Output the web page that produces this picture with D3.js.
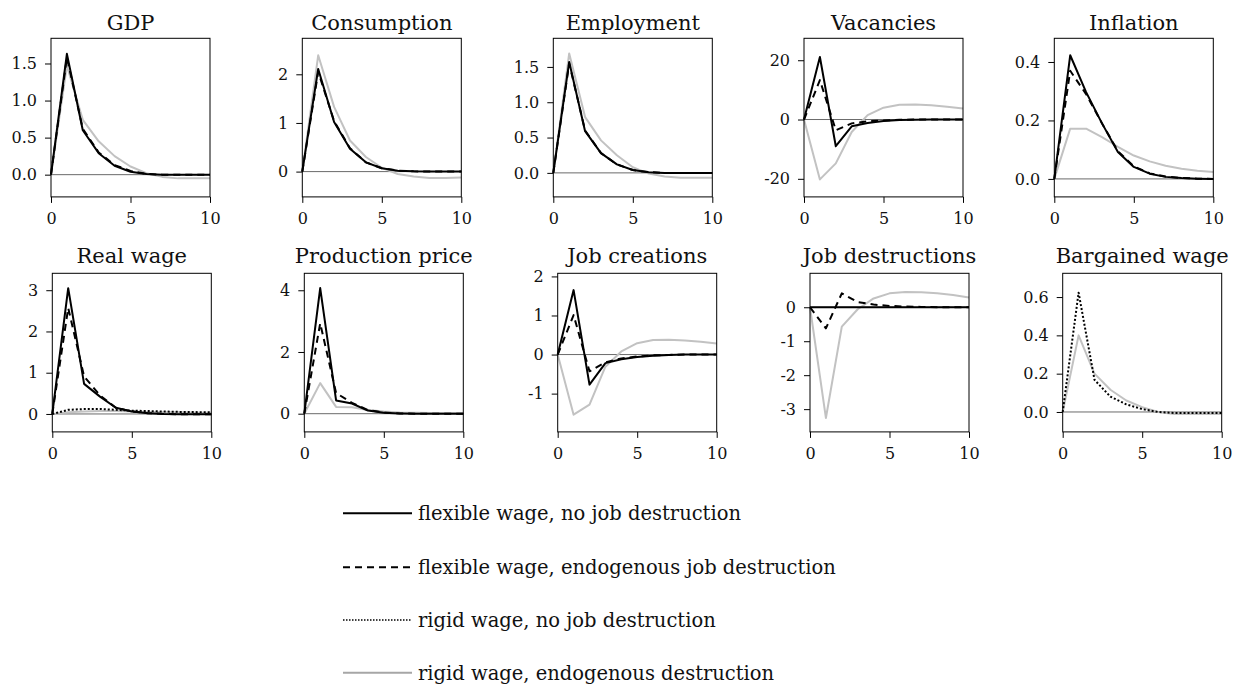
<!DOCTYPE html>
<html>
<head>
<meta charset="utf-8">
<script src="https://cdn.jsdelivr.net/npm/d3@7"></script>
<style>
  html, body { margin: 0; padding: 0; background: #fff; }
  svg { display: block; }
  text { font-family: "DejaVu Serif", serif; fill: #111; }
</style>
</head>
<body>
<svg id="chart" width="1244" height="686"></svg>
<script>
// ---------------- DATA ----------------
const periods = [0, 1, 2, 3, 4, 5, 6, 7, 8, 9, 10];

const titles = ["GDP", "Consumption", "Employment", "Vacancies", "Inflation",
                "Real wage", "Production price", "Job creations", "Job destructions", "Bargained wage"];

// One row per panel (same order as titles); null = series not drawn in that panel
const flexNoJD = [
  [0, 1.63, 0.60, 0.29, 0.12, 0.04, 0.01, 0, 0, 0, 0],
  [0, 2.11, 1.02, 0.47, 0.19, 0.07, 0.02, 0.005, 0, 0, 0],
  [0, 1.57, 0.59, 0.28, 0.12, 0.04, 0.01, 0, 0, 0, 0],
  [0, 21.1, -9.0, -2.3, -1.2, -0.5, -0.2, -0.1, 0, 0, 0],
  [0, 0.423, 0.297, 0.19, 0.092, 0.041, 0.018, 0.007, 0.003, 0.001, 0],
  [0, 3.05, 0.73, 0.42, 0.15, 0.06, 0.02, 0, -0.01, -0.01, -0.01],
  [0, 4.07, 0.43, 0.33, 0.10, 0.03, 0.01, 0, 0, 0, 0],
  [0, 1.65, -0.77, -0.22, -0.12, -0.06, -0.03, -0.01, 0, 0, 0],
  [0, 0, 0, 0, 0, 0, 0, 0, 0, 0, 0],
  null
];

const flexEndoJD = [
  [0, 1.58, 0.62, 0.30, 0.13, 0.05, 0.01, 0, 0, 0, 0],
  [0, 2.05, 1.04, 0.48, 0.19, 0.07, 0.02, 0.005, 0, 0, 0],
  [0, 1.55, 0.60, 0.28, 0.12, 0.04, 0.01, 0, 0, 0, 0],
  [0, 13.3, -3.6, -1.3, -0.6, -0.3, -0.1, 0, 0, 0, 0],
  [0, 0.37, 0.29, 0.19, 0.095, 0.043, 0.019, 0.008, 0.003, 0.001, 0],
  [0, 2.57, 0.91, 0.45, 0.15, 0.06, 0.02, 0, -0.01, -0.01, -0.01],
  [0, 2.93, 0.67, 0.35, 0.12, 0.04, 0.01, 0, 0, 0, 0],
  [0, 1.01, -0.43, -0.20, -0.10, -0.05, -0.02, -0.01, 0, 0, 0],
  [0, -0.62, 0.41, 0.15, 0.08, 0.04, 0.02, 0.01, 0, 0, 0],
  null
];

const rigidNoJD = [
  null, null, null, null, null,
  [0, 0.10, 0.12, 0.12, 0.10, 0.08, 0.07, 0.06, 0.05, 0.045, 0.04],
  null, null, null,
  [0, 0.623, 0.168, 0.08, 0.04, 0.015, 0.0, -0.005, -0.005, -0.005, -0.005]
];

const rigidEndoJD = [
  [0, 1.47, 0.74, 0.45, 0.25, 0.11, 0.02, -0.03, -0.05, -0.05, -0.05],
  [0, 2.39, 1.33, 0.64, 0.30, 0.08, -0.05, -0.10, -0.13, -0.13, -0.12],
  [0, 1.69, 0.79, 0.46, 0.25, 0.08, -0.01, -0.05, -0.07, -0.07, -0.07],
  [0, -20.2, -14.8, -4.2, 1.5, 4.0, 5.0, 5.1, 4.8, 4.3, 3.7],
  [0, 0.172, 0.172, 0.143, 0.11, 0.08, 0.06, 0.045, 0.035, 0.028, 0.024],
  [0, 0.04, 0.06, 0.07, 0.07, 0.06, 0.05, 0.04, 0.04, 0.03, 0.03],
  [0, 0.99, 0.22, 0.21, 0.12, 0.07, 0.04, 0.03, 0.02, 0.02, 0.02],
  [0, -1.54, -1.28, -0.31, 0.08, 0.29, 0.37, 0.38, 0.36, 0.33, 0.28],
  [0, -3.26, -0.57, -0.06, 0.26, 0.41, 0.45, 0.44, 0.41, 0.36, 0.29],
  [0, 0.40, 0.20, 0.116, 0.06, 0.025, 0.0, -0.01, -0.01, -0.01, -0.01]
];

const yTicks = [
  [0, 0.5, 1.0, 1.5], [0, 1, 2], [0, 0.5, 1.0, 1.5], [-20, 0, 20], [0, 0.2, 0.4],
  [0, 1, 2, 3], [0, 2, 4], [-1, 0, 1, 2], [-3, -2, -1, 0], [0, 0.2, 0.4, 0.6]
];
const yTickDecimals = [1, 0, 1, 0, 1, 0, 0, 0, 0, 1];
const xTicks = [0, 5, 10];

const seriesNames = ["flexible wage, no job destruction",
                     "flexible wage, endogenous job destruction",
                     "rigid wage, no job destruction",
                     "rigid wage, endogenous destruction"];

// ---------------- LAYOUT / STYLE ----------------
const yDomains = [
  [-0.30, 1.84], [-0.52, 2.74], [-0.34, 1.905], [-26.1, 27.4], [-0.0615, 0.481],
  [-0.435, 3.41], [-0.59, 4.55], [-1.98, 2.08], [-3.67, 1.0], [-0.104, 0.724]
];
const panelLeft = [51, 302.3, 553.3, 804, 1054.3, 52.3, 304.3, 557.7, 810, 1062.7];
const panelW = 159;
const rowTop = [38.3, 273.3];
const panelH = 158.6;

const styles = [
  { color: "#000", width: 2, dash: null },
  { color: "#000", width: 2, dash: "7,5" },
  { color: "#000", width: 2, dash: "2,2" },
  { color: "#c2c2c2", width: 2, dash: null }
];
const legendGray = "#a6a6a6";

const svg = d3.select("#chart");
const allSeries = [flexNoJD, flexEndoJD, rigidNoJD, rigidEndoJD];
const drawOrder = [3, 2, 1, 0];

titles.forEach((title, i) => {
  const row = i < 5 ? 0 : 1;
  const left = panelLeft[i];
  const top = rowTop[row];
  const x = d3.scaleLinear().domain([0, 10]).range([left, left + panelW]);
  const y = d3.scaleLinear().domain(yDomains[i]).range([top + panelH, top]);
  const g = svg.append("g");

  // zero line
  g.append("line")
    .attr("x1", x(0)).attr("x2", x(10))
    .attr("y1", y(0)).attr("y2", y(0))
    .attr("stroke", "#6a6a6a").attr("stroke-width", 1);

  const line = d3.line()
    .defined(d => d != null)
    .x((d, k) => x(periods[k]))
    .y(d => y(d));

  drawOrder.forEach(s => {
    const vals = allSeries[s][i];
    if (!vals) return;
    const st = styles[s];
    g.append("path")
      .attr("d", line(vals))
      .attr("fill", "none")
      .attr("stroke", st.color)
      .attr("stroke-width", st.width)
      .attr("stroke-linejoin", "round")
      .attr("stroke-dasharray", st.dash);
  });

  // frame
  g.append("rect")
    .attr("x", x(0)).attr("y", top)
    .attr("width", panelW).attr("height", panelH)
    .attr("fill", "none").attr("stroke", "#000").attr("stroke-width", 1);

  // y axis
  const fmt = d3.format("." + yTickDecimals[i] + "f");
  const yAxis = d3.axisLeft(y).tickValues(yTicks[i]).tickSize(6).tickPadding(8)
    .tickFormat(d => fmt(d).replace("−", "-"));
  const ya = g.append("g").attr("transform", `translate(${x(0)},0)`).call(yAxis);
  ya.select(".domain").remove();
  ya.selectAll("line").attr("stroke", "#000");
  ya.selectAll("text").attr("font-family", "DejaVu Serif").attr("font-size", 16).attr("fill", "#111");

  // x axis
  const xAxis = d3.axisBottom(x).tickValues(xTicks).tickSize(6).tickPadding(10)
    .tickFormat(d3.format("d"));
  const xa = g.append("g").attr("transform", `translate(0,${top + panelH})`).call(xAxis);
  xa.select(".domain").remove();
  xa.selectAll("line").attr("stroke", "#000");
  xa.selectAll("text").attr("font-family", "DejaVu Serif").attr("font-size", 16).attr("fill", "#111");

  // title
  g.append("text")
    .attr("x", left + panelW / 2)
    .attr("y", row === 0 ? 30 : 263)
    .attr("text-anchor", "middle")
    .attr("font-size", 21)
    .text(title);
});

// legend
const legendY = [513.3, 567.3, 620, 672.7];
seriesNames.forEach((name, s) => {
  const st = styles[s];
  svg.append("line")
    .attr("x1", 343).attr("x2", 412)
    .attr("y1", legendY[s]).attr("y2", legendY[s])
    .attr("stroke", s === 3 ? legendGray : st.color)
    .attr("stroke-width", s === 2 ? 1.5 : 2)
    .attr("stroke-dasharray", s === 2 ? "1.5,1.5" : st.dash);
  svg.append("text")
    .attr("x", 418).attr("y", legendY[s] + 7)
    .attr("font-size", 19.5)
    .text(name);
});
</script>
</body>
</html>
